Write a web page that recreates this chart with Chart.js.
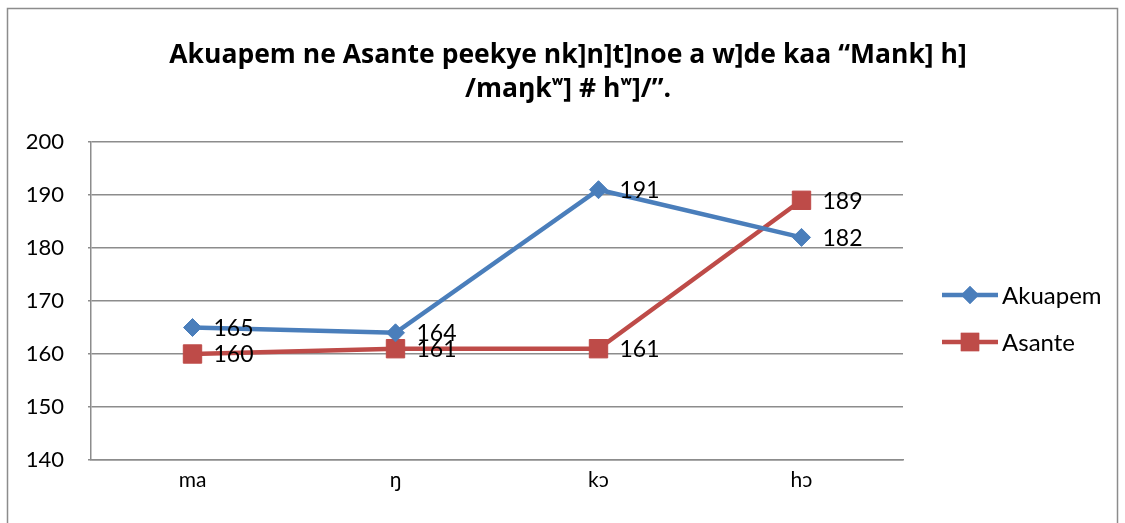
<!DOCTYPE html>
<html>
<head>
<meta charset="utf-8">
<script src="https://cdn.jsdelivr.net/npm/chart.js@4.4.1/dist/chart.umd.min.js"></script>
<style>
    html, body { margin: 0; padding: 0; background: #fff; }
    #wrap { width: 1125px; height: 523px; position: relative; }
</style>
</head>
<body>
<div id="wrap"><canvas id="toneChart" width="1125" height="523"></canvas></div>
<script>
// Pitch values per syllable
const syllables = ['ma', 'ŋ', 'kɔ', 'hɔ'];
const akuapem = [165, 164, 191, 182];
const asante = [160, 161, 161, 189];
const yTicks = [140, 150, 160, 170, 180, 190, 200];
const titleLines = [
    'Akuapem ne Asante peekye nk]n]t]noe a w]de kaa “Mank] h]',
    '/maŋkʷ] # hʷ]/”.'
];

const FONT = 'Lato, "Open Sans", sans-serif';
const TITLE_FONT = '"Open Sans", Lato, sans-serif';
const BLUE = '#4a7ebb';
const RED = '#be4b48';
const GRID = '#8c8c8c';

// Frame, title, value labels and legend
const decorations = {
    id: 'decorations',
    afterDraw(chart) {
        const ctx = chart.ctx;
        ctx.save();

        ctx.strokeStyle = GRID;
        ctx.lineWidth = 1.5;
        ctx.strokeRect(7.5, 8.5, 1110, 530);

        ctx.fillStyle = '#000';
        ctx.font = 'bold 26.5px ' + TITLE_FONT;
        ctx.textAlign = 'center';
        ctx.textBaseline = 'middle';
        ctx.fillText(titleLines[0], 568, 55);
        ctx.fillText(titleLines[1], 568, 89);

        ctx.font = '23px ' + FONT;
        ctx.textAlign = 'left';
        chart.data.datasets.forEach((ds, i) => {
            chart.getDatasetMeta(i).data.forEach((pt, j) => {
                ctx.fillText(String(ds.data[j]), pt.x + 21, pt.y + 1);
            });
        });

        // legend
        const entries = [
            { label: chart.data.datasets[0].label, color: BLUE, style: 'rectRot', radius: 9, y: 295 },
            { label: chart.data.datasets[1].label, color: RED, style: 'rect', radius: 13, y: 342 }
        ];
        entries.forEach(e => {
            ctx.strokeStyle = e.color;
            ctx.lineWidth = 4.5;
            ctx.beginPath();
            ctx.moveTo(942, e.y);
            ctx.lineTo(998, e.y);
            ctx.stroke();
            ctx.fillStyle = e.color;
            Chart.helpers.drawPoint(ctx, { pointStyle: e.style, radius: e.radius, borderWidth: 0 }, 970, e.y);
            ctx.fill();
            ctx.fillStyle = '#000';
            ctx.font = '24px ' + FONT;
            ctx.fillText(e.label, 1002, e.y + 1);
        });

        ctx.restore();
    }
};

new Chart(document.getElementById('toneChart'), {
    type: 'line',
    data: {
        labels: syllables,
        datasets: [{
            label: 'Akuapem',
            data: akuapem,
            borderColor: BLUE,
            backgroundColor: BLUE,
            borderWidth: 4.5,
            pointStyle: 'rectRot',
            pointRadius: 9,
            pointBorderWidth: 1,
            tension: 0
        }, {
            label: 'Asante',
            data: asante,
            borderColor: RED,
            backgroundColor: RED,
            borderWidth: 4.5,
            pointStyle: 'rect',
            pointRadius: 13,
            pointBorderWidth: 1,
            tension: 0
        }]
    },
    options: {
        responsive: false,
        animation: false,
        layout: { padding: { left: 0, right: 222, top: 142, bottom: 0 } },
        plugins: {
            legend: { display: false },
            title: { display: false },
            tooltip: { enabled: false }
        },
        scales: {
            x: {
                offset: true,
                grid: { display: false, drawTicks: false },
                border: { color: GRID, width: 1.5 },
                ticks: { color: '#000', font: { family: FONT, size: 21 }, padding: 8 },
                afterFit(scale) { scale.height = 63; }
            },
            y: {
                min: 140,
                max: 200,
                afterBuildTicks(scale) { scale.ticks = yTicks.map(v => ({ value: v })); },
                grid: { color: GRID, lineWidth: 1.5, tickLength: 3 },
                border: { color: GRID, width: 1.5 },
                ticks: { color: '#000', font: { family: FONT, size: 22 }, padding: 24 },
                afterFit(scale) { scale.width = 91; }
            }
        }
    },
    plugins: [decorations]
});
</script>
</body>
</html>
